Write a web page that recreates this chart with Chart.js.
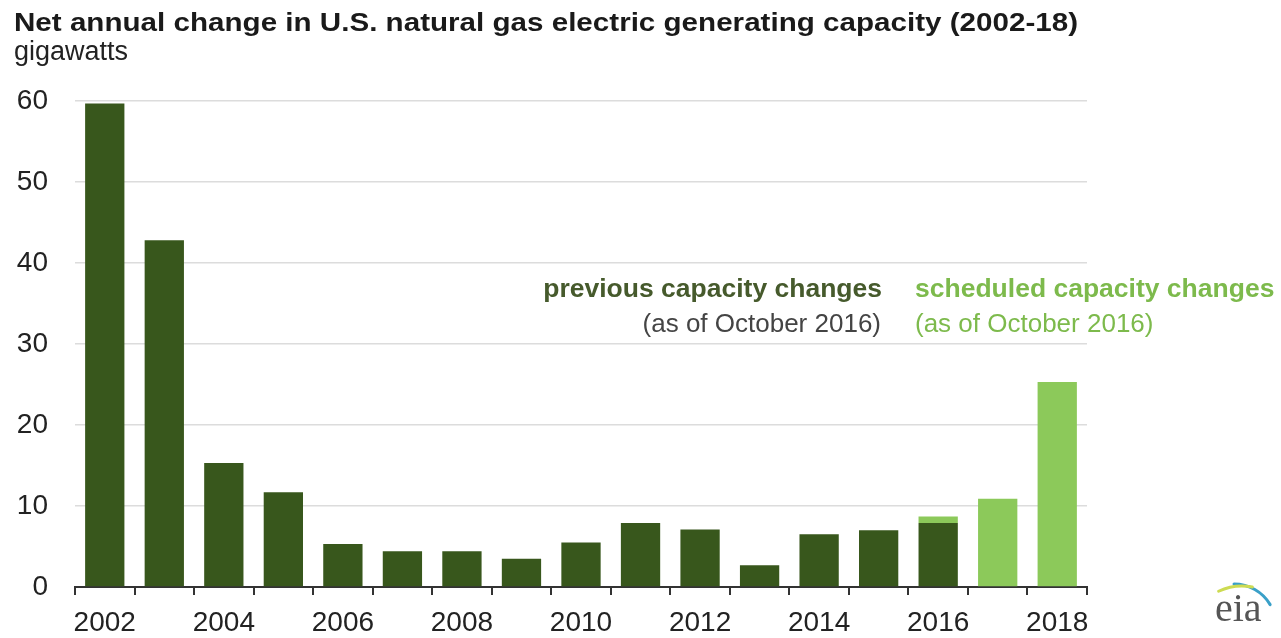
<!DOCTYPE html>
<html>
<head>
<meta charset="utf-8">
<script src="https://cdn.jsdelivr.net/npm/chart.js@4.4.1/dist/chart.umd.min.js"></script>
<style>
  html, body { margin: 0; padding: 0; background: #fff; }
  #wrap { width: 1281px; height: 638px; position: relative; }
</style>
</head>
<body>
<div id="wrap"><canvas id="graph"></canvas></div>
<script>
// net annual change in natural gas capacity, gigawatts
const years = ['2002', '2003', '2004', '2005', '2006', '2007', '2008', '2009', '2010',
               '2011', '2012', '2013', '2014', '2015', '2016', '2017', '2018'];
const previousChanges = [59.7, 42.8, 15.3, 11.7, 5.3, 4.4, 4.4, 3.5, 5.5,
                         7.9, 7.1, 2.7, 6.5, 7.0, 7.9, null, null];
const scheduledChanges = [null, null, null, null, null, null, null, null, null,
                          null, null, null, null, null, 0.8, 10.9, 25.3];
const yTicks = [0, 10, 20, 30, 40, 50, 60];

const darkGreen = '#38571c';
const lightGreen = '#8cc95a';
const font = "'Liberation Sans', Arial, sans-serif";

// title, unit line, the two notes and the eia mark
const texts = {
  id: 'texts',
  afterDraw(chart) {
    const ctx = chart.ctx;
    ctx.save();
    ctx.textBaseline = 'alphabetic';
    ctx.textAlign = 'left';

    // title is drawn a little wide, to run across to the end of the axis
    ctx.font = 'bold 26px ' + font;
    ctx.fillStyle = '#1a1a1a';
    const title = 'Net annual change in U.S. natural gas electric generating capacity (2002-18)';
    const sx = 1064 / ctx.measureText(title).width;
    ctx.save();
    ctx.translate(14, 31);
    ctx.scale(sx, 1);
    ctx.fillText(title, 0, 0);
    ctx.restore();

    ctx.font = '27px ' + font;
    ctx.fillStyle = '#222';
    ctx.fillText('gigawatts', 14, 60);

    ctx.font = 'bold 26.5px ' + font;
    ctx.textAlign = 'right';
    ctx.fillStyle = '#465a2c';
    ctx.fillText('previous capacity changes', 882, 297);
    ctx.font = '26px ' + font;
    ctx.fillStyle = '#444';
    ctx.fillText('(as of October 2016)', 881, 332);

    ctx.textAlign = 'left';
    ctx.font = 'bold 26.5px ' + font;
    ctx.fillStyle = '#7dba4c';
    ctx.fillText('scheduled capacity changes', 915, 297);
    ctx.font = '26px ' + font;
    ctx.fillText('(as of October 2016)', 915, 332);

    // eia logo
    ctx.font = '40px "Liberation Serif", serif';
    ctx.fillStyle = '#555';
    ctx.fillText('eia', 1215, 621);
    ctx.lineCap = 'round';
    ctx.lineWidth = 3;
    ctx.strokeStyle = '#3aa0c8';
    ctx.beginPath();
    ctx.arc(1234, 626, 42, -Math.PI * 0.5, -Math.PI * 0.17);
    ctx.stroke();
    ctx.strokeStyle = '#cddb52';
    ctx.beginPath();
    ctx.arc(1242, 641, 55, -Math.PI * 0.64, -Math.PI * 0.44);
    ctx.stroke();
    ctx.restore();
  }
};

new Chart(document.getElementById('graph'), {
  type: 'bar',
  data: {
    labels: years,
    datasets: [
      {
        label: 'previous capacity changes',
        data: previousChanges,
        backgroundColor: darkGreen,
        barPercentage: 0.66,
        categoryPercentage: 1
      },
      {
        label: 'scheduled capacity changes',
        data: scheduledChanges,
        backgroundColor: lightGreen,
        barPercentage: 0.66,
        categoryPercentage: 1
      }
    ]
  },
  options: {
    responsive: true,
    maintainAspectRatio: false,
    animation: false,
    layout: { padding: { left: 17, right: 194, top: 101, bottom: 0 } },
    plugins: {
      legend: { display: false },
      tooltip: { enabled: false }
    },
    scales: {
      x: {
        stacked: true,
        // keep the axis flush with the canvas bottom
        afterFit: function (scale) {
          scale.paddingLeft = 0;
          scale.paddingRight = 0;
          scale.height = 51;
        },
        border: { display: true, color: '#333', width: 2 },
        grid: {
          offset: true,
          drawOnChartArea: false,
          drawTicks: true,
          tickLength: 8,
          color: '#333',
          lineWidth: 2
        },
        ticks: {
          autoSkip: false,
          maxRotation: 0,
          color: '#222',
          padding: 14,
          font: { family: font, size: 28, lineHeight: 1 },
          callback: function (v, i) { return i % 2 === 0 ? years[i] : ''; }
        }
      },
      y: {
        stacked: true,
        min: 0,
        max: 60,
        afterBuildTicks: function (scale) { scale.ticks = yTicks.map(v => ({ value: v })); },
        afterFit: function (scale) { scale.width = 58; },
        border: { display: false },
        grid: { color: '#dcdcdc', lineWidth: 1.5, drawTicks: false },
        ticks: {
          color: '#222',
          padding: 27,
          font: { family: font, size: 28 }
        }
      }
    }
  },
  plugins: [texts]
});
</script>
</body>
</html>
